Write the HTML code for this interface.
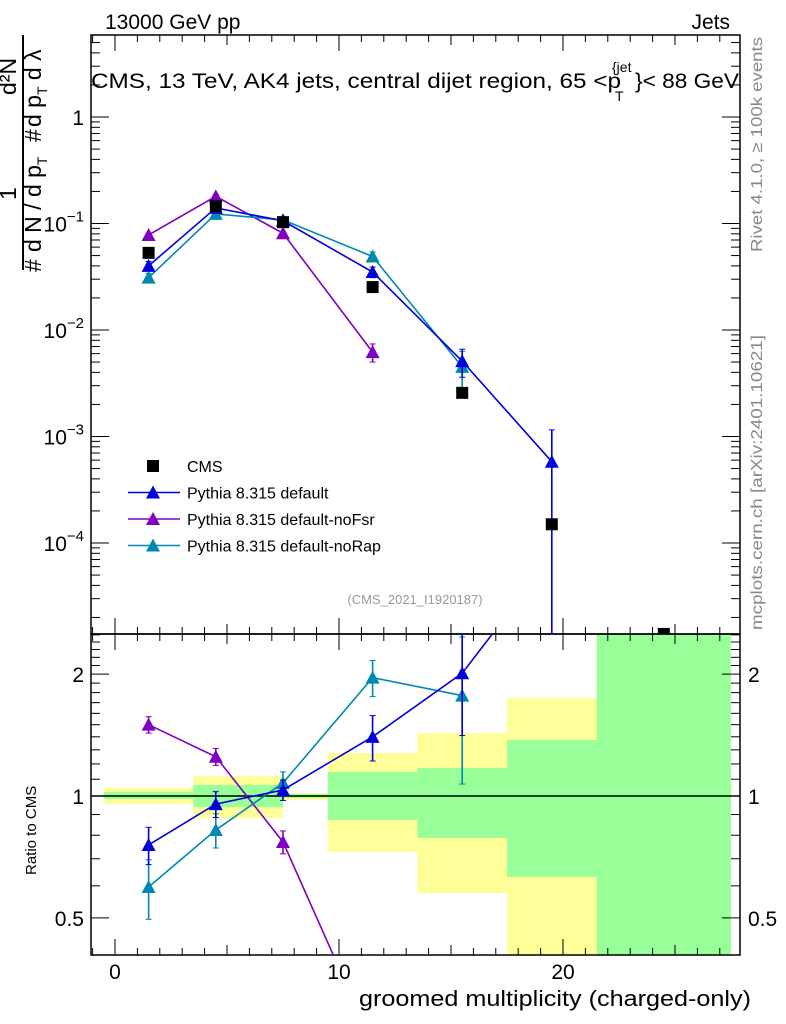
<!DOCTYPE html>
<html><head><meta charset="utf-8"><style>
html,body{margin:0;background:#fff;overflow:hidden;width:786px;height:1024px}
svg{display:block;font-family:"Liberation Sans",sans-serif}
</style></head><body>
<svg id="c" width="786" height="1024" viewBox="0 0 786 1024">
<rect width="786" height="1024" fill="#fff"/>
<g id="bands"></g>
<g id="axes"></g>
<g id="marks"></g>
<text x="105" y="29" font-size="21">13000 GeV pp</text>
<text x="730" y="29" font-size="21" text-anchor="end">Jets</text>
<g>
<text x="91" y="88" font-size="21" textLength="530" lengthAdjust="spacingAndGlyphs">CMS, 13 TeV, AK4 jets, central dijet region, 65 &lt;p</text>
<text x="612" y="72" font-size="14">{jet</text>
<text x="615" y="101" font-size="14">T</text>
<text x="635" y="88" font-size="21" textLength="104" lengthAdjust="spacingAndGlyphs">}&lt; 88 GeV</text>
</g>
<text x="415" y="604" font-size="13" fill="#999" text-anchor="middle">(CMS_2021_I1920187)</text>
<text transform="translate(762,252) rotate(-90)" font-size="16" fill="#888" textLength="215" lengthAdjust="spacingAndGlyphs">Rivet 4.1.0, ≥ 100k events</text>
<text transform="translate(762,630) rotate(-90)" font-size="16" fill="#888" textLength="295" lengthAdjust="spacingAndGlyphs">mcplots.cern.ch [arXiv:2401.10621]</text>
<g font-size="23">
<line x1="23" y1="35" x2="23" y2="270" stroke="#000" stroke-width="2"/>
<text transform="translate(16,200) rotate(-90)">1</text>
<text transform="translate(16,95) rotate(-90)">d²N</text>
<text transform="translate(41,272) rotate(-90)">#</text>
<text transform="translate(41,252) rotate(-90)">d N / d p<tspan font-size="14" dy="6">T</tspan></text>
<text transform="translate(41,142) rotate(-90)">#</text>
<text transform="translate(41,127) rotate(-90)">d p<tspan font-size="14" dy="6">T</tspan><tspan dy="-6"> d λ</tspan></text>
</g>
<text x="36" y="875" transform="rotate(-90 36 875)" font-size="15">Ratio to CMS</text>
<text x="751" y="1006" font-size="22" text-anchor="end" textLength="392" lengthAdjust="spacingAndGlyphs">groomed multiplicity (charged-only)</text>
<g id="legend"></g>
</svg>
<script>
const xCenters=[1.5,4.5,7.5,11.5,15.5,19.5,24.5];
const binEdges=[-0.5,3.5,7.5,9.5,13.5,17.5,21.5,27.5];
const cms=[0.053,0.146,0.103,0.0253,0.00257,0.00015,0.000014];
const pyDef=[0.040,0.14,0.106,0.035,0.0051,0.00058];
const pyDefErr=[0.004,0.008,0.005,0.004,0.0015,0.000575];
const pyFsr=[0.078,0.18,0.081,0.0062];
const pyFsrErr=[0.003,0.006,0.003,0.0012];
const pyRap=[0.031,0.123,0.108,0.049,0.0045];
const pyRapErr=[0.003,0.006,0.005,0.005,0.0018];
const rDef=[0.757,0.955,1.035,1.40,2.01,3.9];
const rDefErr=[0.08,0.07,0.06,0.18,0.6,1.0];
const rFsr=[1.50,1.25,0.77,0.245];
const rFsrErr=[0.07,0.06,0.05,0.05];
const rRap=[0.596,0.824,1.077,1.96,1.77];
const rRapErr=[0.1,0.08,0.07,0.2,0.7];
const yellowHi=[1.046,1.12,1.017,1.277,1.43,1.745,3];
const yellowLo=[0.958,0.882,0.978,0.727,0.576,0.3,0.3];
const greenHi=[1.023,1.065,1.012,1.146,1.172,1.375,3];
const greenLo=[0.983,0.939,0.99,0.873,0.788,0.631,0.3];
const xTicks=[0,10,20];
const yTopTicks=[1,0.1,0.01,0.001,0.0001];
const yTopLabels=["1","10^-1","10^-2","10^-3","10^-4"];
const yRatioTicks=[0.5,1,2];
const yRatioLabels=["0.5","1","2"];

const L=91,R=740,T=35,M=634,B=955;
const X=v=>115+22.4*v;
const YT=v=>117-106.5*Math.log10(v);
const YR=v=>796-405*Math.log10(v);
const NS="http://www.w3.org/2000/svg";
function mk(p,tag,a){const e=document.createElementNS(NS,tag);for(const k in a)e.setAttribute(k,a[k]);p.appendChild(e);return e;}
const svg=document.getElementById('c');
const bands=document.getElementById('bands'),axes=document.getElementById('axes'),marks=document.getElementById('marks'),leg=document.getElementById('legend');
const clipD=mk(svg,'defs',{});
const cp1=mk(clipD,'clipPath',{id:'ct'});mk(cp1,'rect',{x:L,y:T,width:R-L,height:M-T});
const cp2=mk(clipD,'clipPath',{id:'cr'});mk(cp2,'rect',{x:L,y:M,width:R-L,height:B-M});
bands.setAttribute('clip-path','url(#cr)');
for(let i=0;i<binEdges.length-1;i++){
 const x0=X(binEdges[i]),x1=X(binEdges[i+1]);
 let r=mk(bands,'rect',{x:x0,y:YR(yellowHi[i]),width:x1-x0,height:YR(yellowLo[i])-YR(yellowHi[i]),fill:'#ffff99'});
 
 
 r=mk(bands,'rect',{x:x0,y:YR(greenHi[i]),width:x1-x0,height:YR(greenLo[i])-YR(greenHi[i]),fill:'#99ff99'});
 
 
}
mk(axes,'rect',{x:L,y:T,width:R-L,height:M-T,fill:'none',stroke:'#000','stroke-width':1.5});
mk(axes,'rect',{x:L,y:M,width:R-L,height:B-M,fill:'none',stroke:'#000','stroke-width':1.5});
mk(axes,'line',{x1:L,x2:R,y1:YR(1),y2:YR(1),stroke:'#000','stroke-width':1.5});
for(let v=-1;v<=27;v++){
 const big=v%10===0,mid=v%5===0; const len=big?16:(mid?10:7);
 [T,M].forEach(y0=>mk(axes,'line',{x1:X(v),x2:X(v),y1:y0,y2:y0+len,stroke:'#000'}));
 [M,B].forEach(y0=>mk(axes,'line',{x1:X(v),x2:X(v),y1:y0,y2:y0-len,stroke:'#000'}));
}
xTicks.forEach(v=>{const t=mk(axes,'text',{x:X(v),y:979,'font-size':21,'text-anchor':'middle'});t.textContent=v;
 
 });
for(let d=-5;d<=0;d++)for(let m=1;m<=9;m++){const v=m*Math.pow(10,d);const y=YT(v);if(y<T||y>M)continue;
 const len=m===1?18:9;mk(axes,'line',{x1:L,x2:L+len,y1:y,y2:y,stroke:'#000'});mk(axes,'line',{x1:R-len,x2:R,y1:y,y2:y,stroke:'#000'});}
yTopTicks.forEach((v,i)=>{const s=yTopLabels[i];const t=mk(axes,'text',{x:84,y:YT(v)+8,'font-size':21,'text-anchor':'end'});
 if(s==='1')t.textContent='1';else{const p=s.split('^');const a=mk(t,'tspan',{});a.textContent=p[0];const b=mk(t,'tspan',{'font-size':15,dy:-10});b.textContent=p[1].replace('-','−');}
 
 });
for(let v=0.4;v<=2.6;v+=0.1){const y=YR(v);if(y<M||y>B)continue;const major=Math.abs(v-0.5)<1e-6||Math.abs(v-1)<1e-6||Math.abs(v-2)<1e-6;
 const len=major?18:9;mk(axes,'line',{x1:L,x2:L+len,y1:y,y2:y,stroke:'#000'});mk(axes,'line',{x1:R-len,x2:R,y1:y,y2:y,stroke:'#000'});}
yRatioTicks.forEach((v,i)=>{[[84,'end'],[748,'start']].forEach(([x,a])=>{const t=mk(axes,'text',{x:x,y:YR(v)+8,'font-size':21,'text-anchor':a});t.textContent=yRatioLabels[i];
 
 });});
function tri(g,x,y,c){return mk(g,'polygon',{points:`${x-7},${y+6} ${x+7},${y+6} ${x},${y-7}`,fill:c});}
function series(vals,errs,Yf,c,name,clip){
 const g=mk(marks,'g',{'clip-path':`url(#${clip})`});
 
 
 const pts=vals.map((v,i)=>`${X(xCenters[i])},${Yf(v)}`).join(' ');
 mk(g,'polyline',{points:pts,fill:'none',stroke:c,'stroke-width':1.6});
 vals.forEach((v,i)=>{const x=X(xCenters[i]);const y=Yf(v);
  const lo=Yf(Math.max(v-errs[i],1e-9)),hi=Yf(v+errs[i]);
  mk(g,'line',{x1:x,x2:x,y1:hi,y2:lo,stroke:c,'stroke-width':1.6});
  mk(g,'line',{x1:x-3,x2:x+3,y1:hi,y2:hi,stroke:c});mk(g,'line',{x1:x-3,x2:x+3,y1:lo,y2:lo,stroke:c});
  const p=tri(g,x,y,c);
  
  });
}
const cB='#0000dd',cP='#7f00bf',cT='#0088b0';
series(pyFsr,pyFsrErr,YT,cP,'pythia-nofsr','ct');
series(pyRap,pyRapErr,YT,cT,'pythia-norap','ct');
series(pyDef,pyDefErr,YT,cB,'pythia-default','ct');
const gc=mk(marks,'g',{'clip-path':'url(#ct)'});


cms.forEach((v,i)=>{const r=mk(gc,'rect',{x:X(xCenters[i])-6,y:YT(v)-6,width:12,height:12,fill:'#000'});
 
 });
series(rFsr,rFsrErr,YR,cP,'ratio-nofsr','cr');
series(rRap,rRapErr,YR,cT,'ratio-norap','cr');
series(rDef,rDefErr,YR,cB,'ratio-default','cr');
const items=[['CMS','#000',0],['Pythia 8.315 default',cB,1],['Pythia 8.315 default-noFsr',cP,1],['Pythia 8.315 default-noRap',cT,1]];
items.forEach((it,i)=>{const y=466+26.5*i;const g=mk(leg,'g',{});
 
 
 if(it[2]){mk(g,'line',{x1:128,x2:180,y1:y,y2:y,stroke:it[1],'stroke-width':1.6});tri(g,153,y,it[1]);}
 else mk(g,'rect',{x:147,y:y-6,width:12,height:12,fill:'#000'});
 const t=mk(g,'text',{x:187,y:y+6,'font-size':16});t.textContent=it[0];});
</script>
</body></html>
